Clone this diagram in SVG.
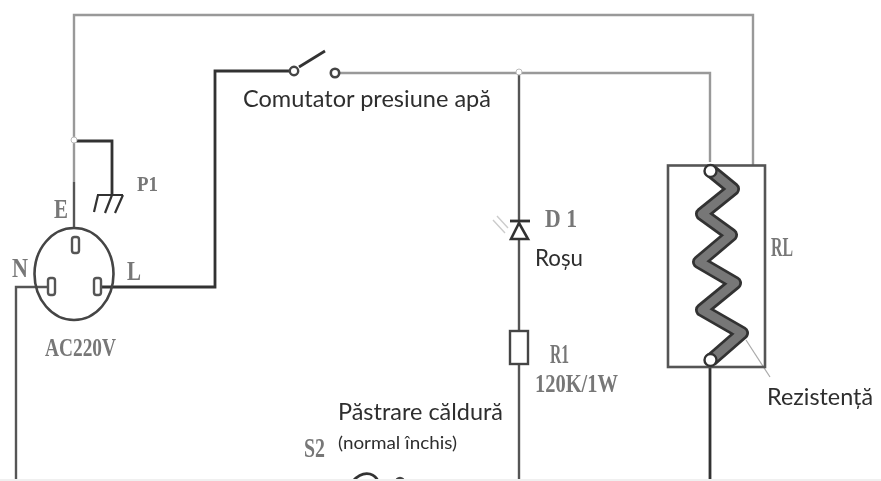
<svg xmlns="http://www.w3.org/2000/svg" width="881" height="481" viewBox="0 0 881 481">
<defs>
<filter id="soft" x="-2%" y="-2%" width="104%" height="104%"><feGaussianBlur stdDeviation="0.55"/></filter>
</defs>
<style>
.w{fill:none;stroke:#333;stroke-width:2.8}
.g{fill:none;stroke:#999;stroke-width:2.4}
.m{fill:none;stroke:#555;stroke-width:2.4}
.s{font-family:"Liberation Serif",serif;fill:#777;font-weight:bold}
.t{font-family:Lato,"Open Sans",sans-serif;fill:#2e2e2e}
.p{fill:#fff;stroke:#555;stroke-width:2.4}
</style>
<rect width="881" height="481" fill="#fff"/>
<g filter="url(#soft)">
<g id="connectors">
<path class="g" d="M74 182V15H753V166"/>
<path class="m" d="M74 182V228"/>
<path class="w" d="M74 141H112V195"/>
<path class="w" d="M100 287H215V71H290"/>
<path class="m" d="M16 479V287H48"/>
<path class="g" d="M340 73H710V162"/>
<path class="m" d="M519 72V224M519 238V331M519 364V479"/>
<path class="w" d="M710 367V479"/>
<path d="M746 340L770 377" fill="none" stroke="#aaa" stroke-width="1.2"/>
</g>
<g id="P1">
<path class="w" d="M97 195H123M98 195L94 212M112 195L105 213M123 195L115 213" style="stroke-width:2.2"/>
<text class="s" x="137" y="191" font-size="22" textLength="21" lengthAdjust="spacingAndGlyphs">P1</text>
</g>
<g id="plug">
<ellipse cx="74" cy="274" rx="39.5" ry="46" fill="none" stroke="#444" stroke-width="2.6"/>
<rect x="72" y="237" width="7" height="16" rx="2.5" class="p"/>
<rect x="48" y="278" width="7" height="17" rx="2.5" class="p"/>
<rect x="94" y="278" width="7" height="17" rx="2.5" class="p"/>
<text class="s" x="54" y="218" font-size="27" textLength="14" lengthAdjust="spacingAndGlyphs">E</text>
<text class="s" x="12" y="277" font-size="27" textLength="16" lengthAdjust="spacingAndGlyphs">N</text>
<text class="s" x="127" y="280" font-size="27" textLength="14" lengthAdjust="spacingAndGlyphs">L</text>
<text class="s" x="45" y="356" font-size="25" textLength="71" lengthAdjust="spacingAndGlyphs">AC220V</text>
</g>
<g id="switch">
<circle cx="294" cy="71" r="4.2" fill="#fff" stroke="#444" stroke-width="2.4"/>
<circle cx="335" cy="73" r="4.2" fill="#fff" stroke="#444" stroke-width="2.6"/>
<path class="w" d="M299 67L325 51"/>
<text class="t" x="243" y="107" font-size="23" textLength="248" lengthAdjust="spacingAndGlyphs">Comutator presiune apă</text>
</g>
<g id="junction">
<circle cx="519" cy="72" r="3" fill="#fff" stroke="#bbb"/>
<circle cx="74" cy="140" r="3" fill="#fff" stroke="#bbb"/>
</g>
<g id="D1">
<path d="M519 223L511 239H528Z" fill="#fff" stroke="#333" stroke-width="2.6"/>
<path class="w" d="M510 221H530"/>
<path d="M493 220L505 233M497 216L508 228" stroke="#ccc" stroke-width="1.4"/>
<text class="s" x="545" y="227" font-size="26" textLength="32" lengthAdjust="spacingAndGlyphs">D 1</text>
<text class="t" x="535" y="266" font-size="23" textLength="48" lengthAdjust="spacingAndGlyphs">Roșu</text>
</g>
<g id="R1">
<rect x="510" y="331" width="18" height="33" fill="#fff" stroke="#444" stroke-width="2.4"/>
<text class="s" x="550" y="363" font-size="27" textLength="19" lengthAdjust="spacingAndGlyphs">R1</text>
<text class="s" x="535" y="392" font-size="25" textLength="83" lengthAdjust="spacingAndGlyphs">120K/1W</text>
</g>
<g id="S2">
<text class="t" x="338" y="420" font-size="23" textLength="165" lengthAdjust="spacingAndGlyphs">Păstrare căldură</text>
<text class="t" x="338" y="449" font-size="18" textLength="119" lengthAdjust="spacingAndGlyphs">(normal închis)</text>
<text class="s" x="304" y="457" font-size="27" textLength="21" lengthAdjust="spacingAndGlyphs">S2</text>
<path class="w" d="M353 481Q361 472 370 474Q376 476 378 481"/>
<circle cx="400" cy="482" r="4" fill="none" stroke="#444" stroke-width="2.4"/>
</g>
<g id="RL">
<rect x="668" y="165.500" width="97" height="201.500" fill="none" stroke="#555" stroke-width="2.6"/>
<path d="M711 171L733 189L702 214L731 235L699 262L735 283L702 310L742 333L711 360" fill="none" stroke="#333" stroke-width="14" stroke-linejoin="round"/>
<path d="M711 171L733 189L702 214L731 235L699 262L735 283L702 310L742 333L711 360" fill="none" stroke="#777" stroke-width="8.500" stroke-linejoin="round"/>
<circle cx="710.500" cy="171" r="6" fill="#fff" stroke="#333" stroke-width="2.4"/>
<circle cx="710.500" cy="360" r="6" fill="#fff" stroke="#333" stroke-width="2.4"/>
<text class="s" x="771" y="256" font-size="27" textLength="22" lengthAdjust="spacingAndGlyphs">RL</text>
<text class="t" x="767" y="405" font-size="23" textLength="106" lengthAdjust="spacingAndGlyphs">Rezistență</text>
</g>
</g>
<rect y="479" width="881" height="2" fill="#f0f0f0"/>
</svg>
